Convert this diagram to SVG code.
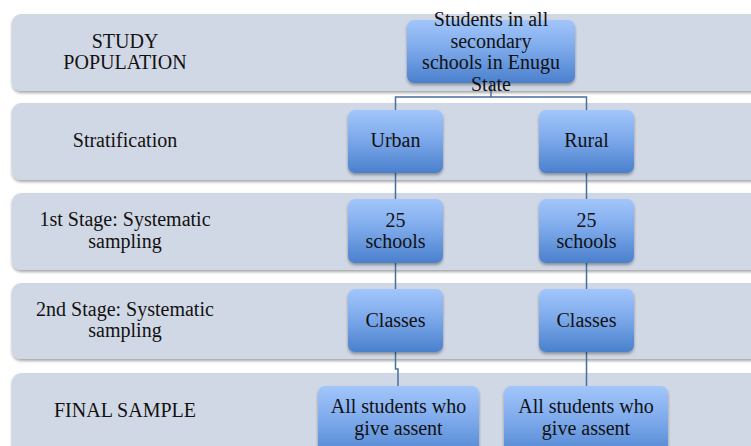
<svg xmlns="http://www.w3.org/2000/svg" width="751" height="446" viewBox="0 0 751 446">
<defs>
<linearGradient id="bg" x1="0" y1="0" x2="0" y2="1">
<stop offset="0" stop-color="#a2c6fb"/>
<stop offset="0.45" stop-color="#7eaaeb"/>
<stop offset="1" stop-color="#4a80cd"/>
</linearGradient>
<filter id="sh" x="-10%" y="-10%" width="120%" height="130%">
<feDropShadow dx="0" dy="2" stdDeviation="1.5" flood-color="#000" flood-opacity="0.35"/>
</filter>
</defs>
<style>
.band{fill:#d1d8e5;filter:url(#sh)}
.box{fill:url(#bg);filter:url(#sh)}
text{font-family:'Liberation Serif','DejaVu Serif',serif;font-size:20px;fill:#111;text-anchor:middle}
.con{fill:none;stroke:#44709f;stroke-width:1.5}
</style>
<rect width="751" height="446" fill="#fff"/>
<g font-family="Liberation Serif, DejaVu Serif, serif">
<g id="band1"><rect class="band" x="12" y="14" width="760" height="77" rx="9"/><text x="125" y="48">STUDY</text><text x="125" y="69">POPULATION</text></g>
<g id="band2"><rect class="band" x="12" y="103" width="760" height="77" rx="9"/><text x="125" y="147">Stratification</text></g>
<g id="band3"><rect class="band" x="12" y="193" width="760" height="77" rx="9"/><text x="125" y="226">1st Stage: Systematic</text><text x="125" y="248">sampling</text></g>
<g id="band4"><rect class="band" x="12" y="283" width="760" height="76" rx="9"/><text x="125" y="316">2nd Stage: Systematic</text><text x="125" y="337">sampling</text></g>
<g id="band5"><rect class="band" x="12" y="373" width="760" height="90" rx="9"/><text x="125" y="417">FINAL SAMPLE</text></g>
<g id="connectors">
<path class="con" d="M491 83V97M395.5 110V97H586.5V110"/>
<path class="con" d="M395.5 173V199M586.5 173V199"/>
<path class="con" d="M395.5 263V289M586.5 263V289"/>
<path class="con" d="M395.5 352V369H398V386M586.5 352V386"/>
</g>
<g id="top"><rect class="box" x="407" y="20" width="168" height="63" rx="7"/><text x="491" y="26">Students in all</text><text x="491" y="48">secondary</text><text x="491" y="69">schools in Enugu</text><text x="491" y="91">State</text></g>
<g id="urban"><rect class="box" x="348" y="110" width="95" height="63" rx="7"/><text x="395.5" y="147">Urban</text></g>
<g id="rural"><rect class="box" x="539" y="110" width="95" height="63" rx="7"/><text x="586.5" y="147">Rural</text></g>
<g id="schoolsU"><rect class="box" x="348" y="199" width="95" height="64" rx="7"/><text x="395.5" y="227">25</text><text x="395.5" y="248">schools</text></g>
<g id="schoolsR"><rect class="box" x="539" y="199" width="95" height="64" rx="7"/><text x="586.5" y="227">25</text><text x="586.5" y="248">schools</text></g>
<g id="classesU"><rect class="box" x="348" y="289" width="95" height="63" rx="7"/><text x="395.5" y="327">Classes</text></g>
<g id="classesR"><rect class="box" x="539" y="289" width="95" height="63" rx="7"/><text x="586.5" y="327">Classes</text></g>
<g id="finalU"><rect class="box" x="318" y="386" width="161" height="75" rx="7"/><text x="398.5" y="413">All students who</text><text x="398.5" y="435">give assent</text></g>
<g id="finalR"><rect class="box" x="504" y="386" width="164" height="75" rx="7"/><text x="586" y="413">All students who</text><text x="586" y="435">give assent</text></g>
</g>
</svg>
